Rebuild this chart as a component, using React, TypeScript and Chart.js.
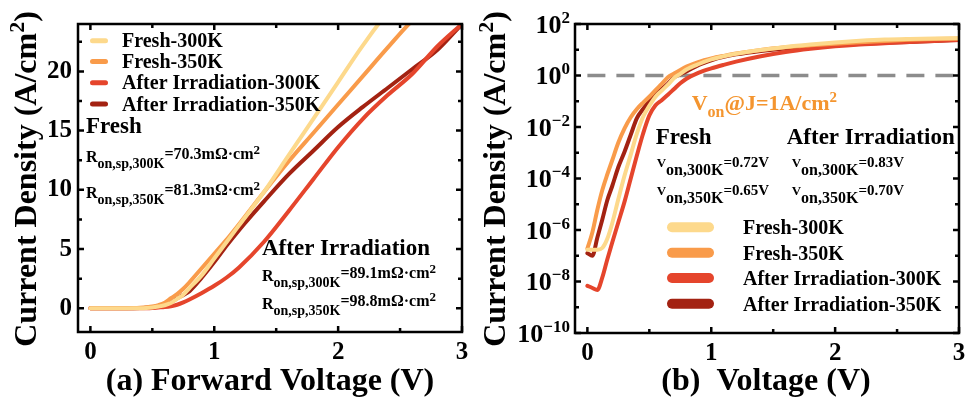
import React, { useEffect, useRef } from "react";
import { Chart, registerables } from "chart.js";

Chart.register(...registerables);

const FONT = "'Liberation Serif', 'Times New Roman', serif";

// ---------- data ----------
const VOLTAGE = [0, 0.04, 0.08, 0.12, 0.16, 0.2, 0.25, 0.3, 0.35, 0.4, 0.45, 0.5, 0.55, 0.6, 0.65, 0.7, 0.75, 0.8, 0.9, 1.0, 1.1, 1.2, 1.4, 1.6, 1.8, 2.0, 2.2, 2.4, 2.6, 2.8, 3.0];

const FRESH_300K = [1.7e-7, 1.7e-7, 1.7e-7, 2.0e-7, 4.5e-7, 1.8e-6, 1.6e-5, 1.3e-4, 8.5e-4, 5.6e-3, 0.025, 0.066, 0.15, 0.26, 0.44, 0.8, 1.15, 1.7, 2.8, 4.2, 5.6, 7.0, 9.8, 12.9, 16.0, 19.1, 22.2, 24.9, 26.4, 27.4, 28.0];
const FRESH_350K = [1.9e-7, 8e-7, 6e-6, 3.5e-5, 1.4e-4, 5e-4, 2.5e-3, 8.9e-3, 0.024, 0.05, 0.089, 0.15, 0.27, 0.47, 0.85, 1.2, 1.65, 2.2, 3.4, 4.6, 5.8, 7.1, 9.8, 12.4, 14.8, 17.2, 19.6, 22.0, 24.3, 26.0, 27.2];
const IRRADIATED_300K = [6.8e-9, 5.6e-9, 4.7e-9, 1.4e-8, 7e-8, 3.2e-7, 2e-6, 1.26e-5, 1e-4, 8e-4, 5.6e-3, 0.028, 0.07, 0.11, 0.18, 0.3, 0.5, 0.75, 1.3, 1.9, 2.6, 3.45, 5.6, 8.2, 10.9, 13.6, 16.0, 18.0, 19.8, 22.1, 24.0];
const IRRADIATED_350K = [1.26e-7, 1.0e-7, 5e-7, 2.5e-6, 1.4e-5, 5e-5, 2.8e-4, 1.1e-3, 5e-3, 0.022, 0.05, 0.1, 0.18, 0.3, 0.48, 0.85, 1.12, 1.45, 2.6, 3.9, 5.3, 6.6, 9.0, 11.3, 13.3, 15.3, 17.0, 18.6, 20.2, 21.8, 24.0];

const SERIES_LABELS = ["Fresh-300K", "Fresh-350K", "After Irradiation-300K", "After Irradiation-350K"];
const SERIES_VALUES = [FRESH_300K, FRESH_350K, IRRADIATED_300K, IRRADIATED_350K];
const SERIES_COLORS = ["#FDD98C", "#F99B4A", "#E5452C", "#A32212"];

const X_TICKS = [0, 1, 2, 3];
const X_MINOR = [0.5, 1.5, 2.5];
const LIN_Y_TICKS = [0, 5, 10, 15, 20];
const LIN_Y_MINOR = [2.5, 7.5, 12.5, 17.5, 22.5];
const LOG_EXPONENTS = [-10, -8, -6, -4, -2, 0, 2];
const LOG_MINOR_EXPONENTS = [-9, -7, -5, -3, -1, 1];

const FRESH_RON = [["300K", "70.3"], ["350K", "81.3"]];
const IRR_RON = [["300K", "89.1"], ["350K", "98.8"]];
const FRESH_VON = [["300K", "0.72"], ["350K", "0.65"]];
const IRR_VON = [["300K", "0.83"], ["350K", "0.70"]];
const VON_THRESHOLD = 1;

const ORANGE_TEXT = "#F4952F";

// ---------- helpers ----------
type Run = { t: string; size: number; dy?: number; color?: string };

function measureRuns(ctx: CanvasRenderingContext2D, runs: Run[]) {
  let w = 0;
  for (const r of runs) {
    ctx.font = `bold ${r.size}px ${FONT}`;
    w += ctx.measureText(r.t).width;
  }
  return w;
}

function drawRuns(ctx: CanvasRenderingContext2D, x: number, y: number, runs: Run[], color = "#000") {
  let cx = x;
  ctx.textBaseline = "alphabetic";
  ctx.textAlign = "left";
  for (const r of runs) {
    ctx.font = `bold ${r.size}px ${FONT}`;
    ctx.fillStyle = r.color || color;
    ctx.fillText(r.t, cx, y + (r.dy || 0));
    cx += ctx.measureText(r.t).width;
  }
}

const Y_TITLE: Run[] = [
  { t: "Current Density (A/cm", size: 32 },
  { t: "2", size: 22, dy: -12 },
  { t: ")", size: 32 },
];

function ronRow(temp: string, val: string): Run[] {
  return [
    { t: "R", size: 16 },
    { t: "on,sp," + temp, size: 14, dy: 6 },
    { t: "=" + val + "mΩ·cm", size: 16, dy: -3 },
    { t: "2", size: 13, dy: -8 },
  ];
}

function vonRow(temp: string, val: string): Run[] {
  return [
    { t: "V", size: 13 },
    { t: "on," + temp, size: 16, dy: 7.5 },
    { t: "=" + val + "V", size: 15 },
  ];
}

type Decor = {
  xTitle: string;
  xTitleCenter: number;
  yTitleBaselineX: number;
  yTitleCenterY: number;
  yMajor: number[];
  yMinor: number[];
  logLabels: boolean;
  legend: { x0: number; x1: number; thick: number; textX: number; rows: number[]; size: number; off: number };
  texts: { x: number; y: number; runs: Run[]; color?: string }[];
  dashed: boolean;
};

function decorPlugin(d: Decor) {
  return {
    id: "decor",
    beforeDatasetsDraw(chart: any) {
      if (!d.dashed) return;
      const { ctx, scales } = chart;
      const y = scales.y.getPixelForValue(VON_THRESHOLD);
      ctx.save();
      ctx.strokeStyle = "#8c8c8c";
      ctx.lineWidth = 3.5;
      ctx.setLineDash([18, 11]);
      ctx.beginPath();
      ctx.moveTo(scales.x.getPixelForValue(0), y);
      ctx.lineTo(scales.x.getPixelForValue(3), y);
      ctx.stroke();
      ctx.restore();
    },
    afterDraw(chart: any) {
      const { ctx, chartArea: a, scales } = chart;
      ctx.save();
      // frame
      ctx.strokeStyle = "#000";
      ctx.lineWidth = 2.5;
      ctx.strokeRect(a.left, a.top, a.right - a.left, a.bottom - a.top);
      // inward ticks
      const tick = (vals: number[], len: number, axis: "x" | "y") => {
        for (const v of vals) {
          ctx.beginPath();
          if (axis === "x") {
            const p = scales.x.getPixelForValue(v);
            ctx.moveTo(p, a.bottom); ctx.lineTo(p, a.bottom - len);
            ctx.moveTo(p, a.top); ctx.lineTo(p, a.top + len);
          } else {
            const p = scales.y.getPixelForValue(v);
            ctx.moveTo(a.left, p); ctx.lineTo(a.left + len, p);
            ctx.moveTo(a.right, p); ctx.lineTo(a.right - len, p);
          }
          ctx.stroke();
        }
      };
      ctx.lineWidth = 2.5;
      tick(X_TICKS, 6, "x");
      tick(X_MINOR, 4, "x");
      tick(d.yMajor, 6, "y");
      tick(d.yMinor, 4, "y");
      // log tick labels with superscripts
      if (d.logLabels) {
        for (const e of LOG_EXPONENTS) {
          const y = scales.y.getPixelForValue(Math.pow(10, e));
          const runs: Run[] = [
            { t: "10", size: 26 },
            { t: e < 0 ? "\u2212" + String(-e) : String(e), size: 17, dy: -10 },
          ];
          const w = measureRuns(ctx, runs);
          drawRuns(ctx, a.left - 5 - w, y + 8.7, runs);
        }
      }
      // x title
      const xRuns: Run[] = [{ t: d.xTitle, size: 32 }];
      const xw = measureRuns(ctx, xRuns);
      drawRuns(ctx, d.xTitleCenter - xw / 2, 390, xRuns);
      // y title (rotated)
      const yw = measureRuns(ctx, Y_TITLE);
      ctx.save();
      ctx.translate(d.yTitleBaselineX, d.yTitleCenterY);
      ctx.rotate(-Math.PI / 2);
      drawRuns(ctx, -yw / 2, 0, Y_TITLE);
      ctx.restore();
      // legend
      const L = d.legend;
      chart.data.datasets.forEach((ds: any, i: number) => {
        const cy = L.rows[i];
        ctx.strokeStyle = ds.borderColor;
        ctx.lineWidth = L.thick;
        ctx.lineCap = "round";
        ctx.beginPath();
        ctx.moveTo(L.x0 + L.thick / 2, cy);
        ctx.lineTo(L.x1 - L.thick / 2, cy);
        ctx.stroke();
        drawRuns(ctx, L.textX, cy + L.off, [{ t: ds.label, size: L.size }]);
      });
      // annotations
      for (const t of d.texts) drawRuns(ctx, t.x, t.y, t.runs, t.color);
      ctx.restore();
    },
  };
}

function makeDatasets() {
  return SERIES_VALUES.map((vals, i) => ({
    label: SERIES_LABELS[i],
    data: VOLTAGE.map((v, k) => ({ x: v, y: vals[k] })),
    borderColor: SERIES_COLORS[i],
    backgroundColor: SERIES_COLORS[i],
    borderWidth: 4,
    pointRadius: 0,
    cubicInterpolationMode: "monotone" as const,
    borderCapStyle: "round" as const,
    borderJoinStyle: "round" as const,
    fill: false,
  }));
}

const tickFont = { family: FONT, size: 25, weight: "bold" as const };

function xScale(height: number) {
  return {
    type: "linear" as const,
    min: -0.1,
    max: 3,
    afterBuildTicks: (s: any) => { s.ticks = X_TICKS.map((v) => ({ value: v })); },
    afterFit: (s: any) => { s.height = height; },
    grid: { display: false, drawTicks: false },
    border: { display: false },
    ticks: { font: tickFont, color: "#000", padding: 6, maxRotation: 0, autoSkip: false, callback: (v: any) => String(v) },
  };
}

function leftConfig(): any {
  return {
    type: "line",
    data: { datasets: makeDatasets() },
    options: {
      responsive: false,
      animation: false,
      layout: { padding: { top: 24, right: 28, left: 0, bottom: 0 } },
      plugins: { legend: { display: false }, tooltip: { enabled: false } },
      scales: {
        x: xScale(68),
        y: {
          type: "linear",
          min: -2,
          max: 24,
          afterBuildTicks: (s: any) => { s.ticks = LIN_Y_TICKS.map((v) => ({ value: v })); },
          afterFit: (s: any) => { s.width = 78; },
          grid: { display: false, drawTicks: false },
          border: { display: false },
          ticks: { font: tickFont, color: "#000", padding: 6, autoSkip: false, callback: (v: any) => String(v) },
        },
      },
    },
    plugins: [
      decorPlugin({
        xTitle: "(a) Forward Voltage (V)",
        xTitleCenter: 270,
        yTitleBaselineX: 36,
        yTitleCenterY: 179,
        yMajor: LIN_Y_TICKS,
        yMinor: LIN_Y_MINOR,
        logLabels: false,
        legend: { x0: 90, x1: 108, thick: 5, textX: 122, rows: [40.7, 61.5, 82.7, 104], size: 20, off: 6.5 },
        texts: [
          { x: 86, y: 133, runs: [{ t: "Fresh", size: 23 }] },
          { x: 86, y: 162, runs: ronRow(FRESH_RON[0][0], FRESH_RON[0][1]) },
          { x: 86, y: 198, runs: ronRow(FRESH_RON[1][0], FRESH_RON[1][1]) },
          { x: 262, y: 255, runs: [{ t: "After Irradiation", size: 23 }] },
          { x: 262, y: 281, runs: ronRow(IRR_RON[0][0], IRR_RON[0][1]) },
          { x: 262, y: 309, runs: ronRow(IRR_RON[1][0], IRR_RON[1][1]) },
        ],
        dashed: false,
      }),
    ],
  };
}

function rightConfig(): any {
  return {
    type: "line",
    data: { datasets: makeDatasets() },
    options: {
      responsive: false,
      animation: false,
      layout: { padding: { top: 24, right: 21, left: 0, bottom: 0 } },
      plugins: { legend: { display: false }, tooltip: { enabled: false } },
      scales: {
        x: xScale(67),
        y: {
          type: "logarithmic",
          min: 1e-10,
          max: 100,
          afterBuildTicks: (s: any) => { s.ticks = LOG_EXPONENTS.map((e) => ({ value: Math.pow(10, e) })); },
          afterFit: (s: any) => { s.width = 105; },
          grid: { display: false, drawTicks: false },
          border: { display: false },
          ticks: { display: false },
        },
      },
    },
    plugins: [
      decorPlugin({
        xTitle: "(b)  Voltage (V)",
        xTitleCenter: 296,
        yTitleBaselineX: 35,
        yTitleCenterY: 179,
        yMajor: LOG_EXPONENTS.map((e) => Math.pow(10, e)),
        yMinor: LOG_MINOR_EXPONENTS.map((e) => Math.pow(10, e)),
        logLabels: true,
        legend: { x0: 197, x1: 244, thick: 10, textX: 273, rows: [227.3, 252.7, 278, 303.7], size: 20, off: 7 },
        texts: [
          {
            x: 221.7,
            y: 110,
            color: ORANGE_TEXT,
            runs: [
              { t: "V", size: 22 },
              { t: "on", size: 16, dy: 7 },
              { t: "@J=1A/cm", size: 22 },
              { t: "2", size: 15, dy: -8 },
            ],
          },
          { x: 185.7, y: 144, runs: [{ t: "Fresh", size: 23 }] },
          { x: 316.7, y: 144, runs: [{ t: "After Irradiation", size: 23 }] },
          { x: 186.7, y: 167, runs: vonRow(FRESH_VON[0][0], FRESH_VON[0][1]) },
          { x: 186.7, y: 195, runs: vonRow(FRESH_VON[1][0], FRESH_VON[1][1]) },
          { x: 321.7, y: 167, runs: vonRow(IRR_VON[0][0], IRR_VON[0][1]) },
          { x: 321.7, y: 195, runs: vonRow(IRR_VON[1][0], IRR_VON[1][1]) },
        ],
        dashed: true,
      }),
    ],
  };
}

export default function App() {
  const leftRef = useRef<HTMLCanvasElement>(null);
  const rightRef = useRef<HTMLCanvasElement>(null);
  useEffect(() => {
    const left = new Chart(leftRef.current as HTMLCanvasElement, leftConfig());
    const right = new Chart(rightRef.current as HTMLCanvasElement, rightConfig());
    return () => {
      left.destroy();
      right.destroy();
    };
  }, []);
  return (
    <div style={{ position: "absolute", left: 0, top: 0, width: 980, height: 400, background: "#fff", overflow: "hidden" }}>
      <canvas ref={leftRef} width={490} height={400} style={{ position: "absolute", left: 0, top: 0, width: 490, height: 400 }} />
      <canvas ref={rightRef} width={510} height={400} style={{ position: "absolute", left: 470, top: 0, width: 510, height: 400 }} />
    </div>
  );
}
